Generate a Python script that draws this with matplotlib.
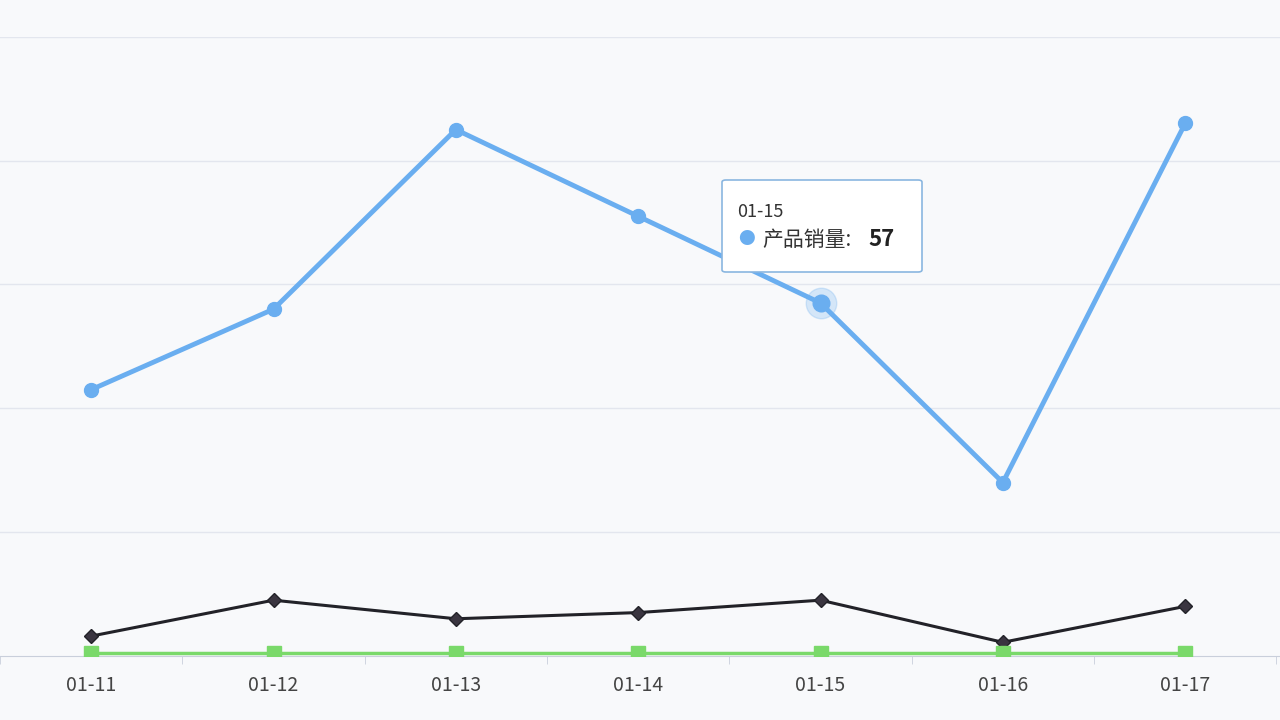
import matplotlib.pyplot as plt
from matplotlib.patches import FancyBboxPatch

plt.rcParams['font.family'] = ['Noto Sans CJK SC', 'DejaVu Sans']

dates = ['01-11', '01-12', '01-13', '01-14', '01-15', '01-16', '01-17']
sales = [43, 56, 85, 71, 57, 28, 86]
dark = [3.2, 9, 6, 7, 9, 2.2, 8]
green = [0.5, 0.5, 0.5, 0.5, 0.5, 0.5, 0.5]

fig = plt.figure(figsize=(12.8, 7.2), dpi=100)
fig.patch.set_facecolor('#f8f9fb')
ax = fig.add_axes([0, 0.089, 1, 0.86])
ax.set_facecolor('#f8f9fb')
x = range(len(dates))
ax.set_xlim(-0.46, 6.52)
ax.set_ylim(0, 100)
for y in [20, 40, 60, 80, 100]:
    ax.axhline(y, color='#e3e6ee', lw=1, zorder=0)
for s in ['top', 'right', 'left']:
    ax.spines[s].set_visible(False)
ax.spines['bottom'].set_color('#c9cfdb')
ax.set_yticks([])
ax.set_xticks([i + 0.5 for i in range(-1, 7)], minor=True)
ax.tick_params(axis='x', which='minor', length=6, color='#c9cfdb')
ax.set_xticks(list(x))
ax.set_xticklabels(dates, fontsize=14, color='#444')
ax.tick_params(axis='x', which='major', length=0, pad=14)

ax.plot(x, sales, color='#6aaef0', lw=3.5, marker='o', ms=10, zorder=3)
ax.plot(x, dark, color='#222228', lw=2.2, marker='D', ms=7, mfc='#3a3540', zorder=3)
ax.plot(x, green, color='#7ad96a', lw=2.5, marker='s', ms=10, zorder=3)
ax.plot([4], [sales[4]], 'o', ms=22, color='#6aaef0', alpha=0.25, zorder=4)
ax.plot([4], [sales[4]], 'o', ms=12, color='#6aaef0', zorder=5)

# tooltip
box = FancyBboxPatch((722 / 1280, 1 - 272 / 720), 200 / 1280, 92 / 720,
                     boxstyle='round,pad=0,rounding_size=0.003',
                     transform=fig.transFigure, fc='white', ec='#8ab6e0', lw=1.2, zorder=10)
fig.patches.append(box)
fig.text(737 / 1280, 1 - 212 / 720, '01-15', fontsize=13, color='#333', va='center', zorder=11)
fig.text(738 / 1280, 1 - 240 / 720, '●', fontsize=12, color='#6aaef0', va='center', zorder=11)
fig.text(762 / 1280, 1 - 240 / 720, '产品销量:', fontsize=15, color='#333', va='center', zorder=11)
fig.text(868 / 1280, 1 - 240 / 720, '57', fontsize=16, fontweight='bold', color='#222', va='center', zorder=11)

fig.savefig('out.png', dpi=100, facecolor=fig.get_facecolor())
